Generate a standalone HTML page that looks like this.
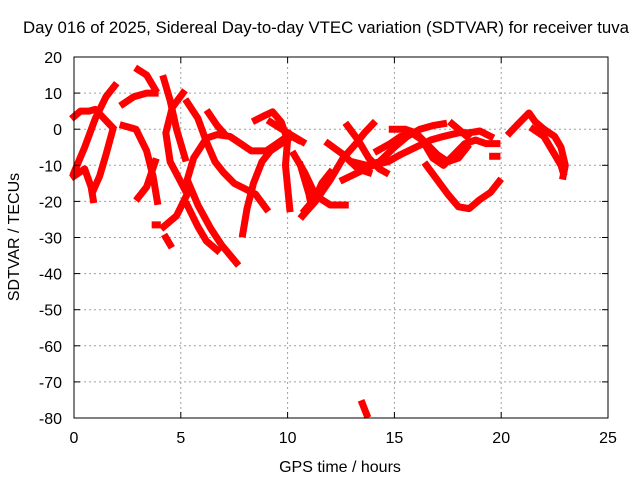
<!DOCTYPE html>
<html><head><meta charset="utf-8"><style>
body{margin:0;background:#fff}
svg text{font-family:"Liberation Sans",sans-serif;font-size:16px;fill:#000}
</style></head><body>
<svg id="chart" width="640" height="480" xmlns="http://www.w3.org/2000/svg">
<text x="326" y="33" text-anchor="middle" style="font-size:16.8px">Day 016 of 2025, Sidereal Day-to-day VTEC variation (SDTVAR) for receiver tuva</text>
<text x="340" y="472" text-anchor="middle">GPS time / hours</text>
<text transform="translate(19,237) rotate(-90)" text-anchor="middle">SDTVAR / TECUs</text>
<g id="grid"></g><g id="series"></g><g id="axes"></g>
</svg>
<script>
const xTicks=[0,5,10,15,20,25];
const yTicks=[20,10,0,-10,-20,-30,-40,-50,-60,-70,-80];
const trackA=[[0,-12],[0.5,-5],[1,3],[1.5,9],[1.9,12]];
const trackB=[[0,3.5],[0.3,5],[0.7,5],[1,5.5],[1.4,3],[1.8,0.5]];
const trackC=[[0,-13],[0.5,-11],[0.8,-16],[0.9,-19.5]];
const trackD=[[1.8,-0.5],[1.5,-7],[1.2,-13],[0.9,-17]];
const trackE=[[3,-19],[3.4,-16],[3.8,-9]];
const trackF=[[2.3,1],[2.9,0],[3.4,-6],[3.7,-13],[3.9,-20]];
const trackG=[[2.3,7],[2.8,9],[3.4,10],[3.8,10]];
const trackH=[[3,16.5],[3.4,15],[3.8,11]];
const trackI=[[4.2,14],[4.5,8],[4.8,0],[5.2,-8]];
const trackJ=[[5.1,10],[4.6,6],[4.3,-1],[4.5,-9],[5.3,-18],[4.8,-24],[4.2,-27]];
const trackJ2=[[3.8,-26.5],[3.9,-26.5]];
const trackJ3=[[4.3,-30],[4.5,-32]];
const trackK=[[5.3,7.5],[5.8,3],[6.2,-3.5],[6.6,-9],[7,-12],[7.5,-15],[8,-16.5],[8.5,-18],[9,-22]];
const trackL=[[5.3,-21],[5.8,-27],[6.2,-31],[6.7,-33.5]];
const trackM=[[7.6,-37],[6.9,-32],[6.4,-27.5],[5.8,-21],[5.3,-14],[5.6,-8],[6.2,-2.5],[6.7,-1.5],[7.3,-2],[7.9,-4.4],[8.3,-6],[9,-6],[9.5,-4],[10.1,-1.5]];
const trackN=[[6.3,4.5],[6.7,1],[7,-1]];
const trackO=[[7.9,-29],[8.1,-22],[8.4,-15],[8.8,-9],[9.2,-6],[9.7,-4],[10.2,-2],[10.5,-3]];
const trackP=[[8.5,2.5],[9,4],[9.3,4.8],[9.7,2],[10,-3],[9.9,-10],[10.1,-22]];
const trackQ=[[9.2,2],[10,-1],[10.7,-3.5]];
const trackR=[[10.6,-10],[11,-18],[11.1,-21],[10.7,-24]];
const trackS=[[12,-12],[11.6,-15],[11.3,-19],[10.8,-22.5]];
const trackT=[[10.3,-7],[10.8,-12],[11.2,-17],[11.6,-19.5],[12,-21],[12.7,-21]];
const trackV=[[10.7,-24],[11.3,-20],[12,-14],[12.6,-8],[13.2,-4],[13.6,-1],[14,1.5]];
const trackW=[[12.8,1],[13.3,-3],[13.8,-8],[14.3,-11],[14.6,-12]];
const trackX=[[11.9,-4],[12.6,-7],[13.3,-11],[13.8,-12]];
const trackY1=[[12.6,-14],[13.3,-12],[14,-10],[14.7,-9],[15.3,-7],[16,-5],[16.7,-3],[17.3,-2],[18,-1],[18.5,-1],[19,-0.5],[19.5,-2]];
const trackY2=[[13,-9],[13.7,-10],[14.3,-9],[15,-5],[15.6,-2],[16.2,0],[16.8,1],[17.3,1.5]];
const trackY3=[[14.2,-6],[14.8,-4],[15.3,-2],[15.8,-1],[16.3,-3],[16.8,-8],[17.3,-10],[17.8,-7],[18.3,-4],[18.8,-3],[19.3,-4],[19.8,-4]];
const trackY4=[[14.9,0],[15.5,0],[16,-1],[16.5,-4],[17,-7],[17.5,-9],[18,-8],[18.4,-5]];
const trackY5=[[17.7,1.5],[18.4,-2]];
const trackZ=[[16.5,-10],[17,-14],[17.5,-18],[18,-21.5],[18.5,-22],[19,-19.5],[19.5,-17.5],[19.9,-14.5]];
const trackAA=[[20.4,-1],[20.8,1.5],[21.3,4.5],[21.6,2],[22,0],[22.5,-2],[22.8,-5],[23,-10],[22.9,-13]];
const trackBB=[[21.5,0],[22,-2],[22.4,-6],[22.8,-10],[22.9,-12]];
const trackCC=[[19.6,-7.5],[19.8,-7.5]];
const trackOut=[[13.5,-76],[13.7,-79]];
const tracks=[trackA,trackB,trackC,trackD,trackE,trackF,trackG,trackH,trackI,trackJ,trackJ2,trackJ3,trackK,trackL,trackM,trackN,trackO,trackP,trackQ,trackR,trackS,trackT,trackV,trackW,trackX,trackY1,trackY2,trackY3,trackY4,trackY5,trackZ,trackAA,trackBB,trackCC,trackOut];

const X0=74,X1=608,Y0=57,Y1=418;
const xs=h=>X0+(h-0)/(25-0)*(X1-X0);
const ys=v=>Y1-(v+80)/100*(Y1-Y0);
const NS="http://www.w3.org/2000/svg";
function mk(tag,attrs,parent){const e=document.createElementNS(NS,tag);for(const k in attrs)e.setAttribute(k,attrs[k]);parent.appendChild(e);return e;}
const grid=document.getElementById('grid'),series=document.getElementById('series'),axes=document.getElementById('axes');
xTicks.forEach(t=>{
  const x=xs(t);
  if(t>0&&t<25){const g=mk('line',{x1:x,x2:x,y1:Y0,y2:Y1,stroke:'#a0a0a0','stroke-dasharray':'2,3'},grid);
  
  }
  mk('line',{x1:x,x2:x,y1:Y1,y2:Y1-6,stroke:'#000'},axes);
  mk('line',{x1:x,x2:x,y1:Y0,y2:Y0+6,stroke:'#000'},axes);
  const l=mk('text',{x:x,y:Y1+25,'text-anchor':'middle'},axes);l.textContent=t;
  
  
});
yTicks.forEach(t=>{
  const y=ys(t);
  if(t>-80&&t<20){const g=mk('line',{x1:X0,x2:X1,y1:y,y2:y,stroke:'#a0a0a0','stroke-dasharray':'2,3'},grid);
  
  }
  mk('line',{x1:X0,x2:X0+6,y1:y,y2:y,stroke:'#000'},axes);
  mk('line',{x1:X1,x2:X1-6,y1:y,y2:y,stroke:'#000'},axes);
  const l=mk('text',{x:X0-12,y:y+6,'text-anchor':'end'},axes);l.textContent=t;
  
  
});
const border=mk('rect',{x:X0,y:Y0,width:X1-X0,height:Y1-Y0,fill:'none',stroke:'#000'},axes);


tracks.forEach(tr=>{
  const p=mk('polyline',{points:tr.map(d=>xs(d[0])+','+ys(d[1])).join(' '),fill:'none',stroke:'#ff0000','stroke-width':7,'stroke-linejoin':'round','stroke-linecap':'square'},series);
  
  
});
</script>
</body></html>
